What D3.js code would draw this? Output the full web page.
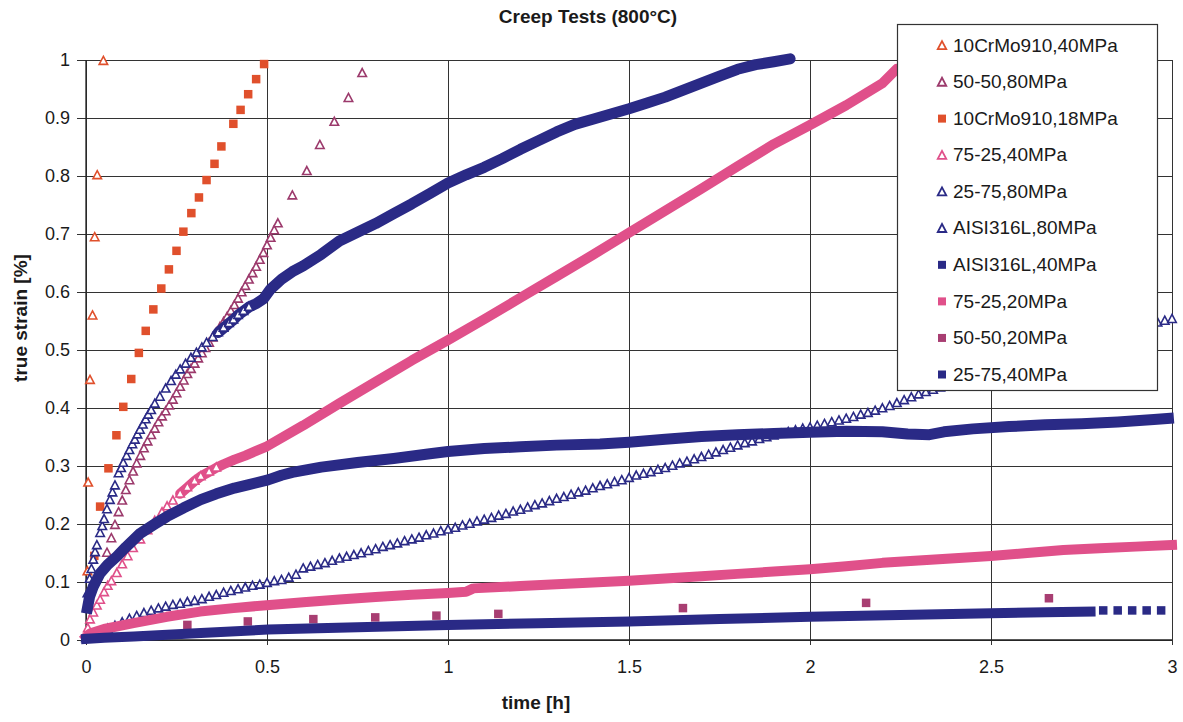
<!DOCTYPE html>
<html>
<head>
<meta charset="utf-8">
<script src="https://cdn.jsdelivr.net/npm/d3@7"></script>
<style>
  html, body { margin: 0; padding: 0; background: #fff; }
  svg { display: block; font-family: "Liberation Sans", Arial, Helvetica, sans-serif; }
</style>
</head>
<body>
<svg id="chart" width="1183" height="722"></svg>
<script>
// ---------------- data ----------------
const chartTitle = "Creep Tests (800°C)";
const xTitle = "time [h]";
const yTitle = "true strain [%]";

const xTicks = [0, 0.5, 1, 1.5, 2, 2.5, 3];
const xTickLabels = ["0", "0.5", "1", "1.5", "2", "2.5", "3"];
const yTicks = [0, 0.1, 0.2, 0.3, 0.4, 0.5, 0.6, 0.7, 0.8, 0.9, 1];
const yTickLabels = ["0", "0.1", "0.2", "0.3", "0.4", "0.5", "0.6", "0.7", "0.8", "0.9", "1"];

const seriesNames = [
  "10CrMo910,40MPa", "50-50,80MPa", "10CrMo910,18MPa", "75-25,40MPa", "25-75,80MPa",
  "AISI316L,80MPa", "AISI316L,40MPa", "75-25,20MPa", "50-50,20MPa", "25-75,40MPa"
];

// 10CrMo910, 40 MPa
const crmo40Time   = [0.004, 0.006, 0.011, 0.018, 0.024, 0.031, 0.048];
const crmo40Strain = [0.118, 0.271, 0.448, 0.559, 0.694, 0.801, 0.998];

// 50-50, 80 MPa
const ff80Time = [0.058, 0.07, 0.08, 0.09, 0.10, 0.11, 0.12, 0.13, 0.14, 0.15,
  0.16, 0.17, 0.18, 0.19, 0.20, 0.21, 0.22, 0.23, 0.24, 0.25,
  0.26, 0.27, 0.28, 0.29, 0.30, 0.31, 0.32, 0.33, 0.34, 0.35,
  0.36, 0.37, 0.38, 0.39, 0.40, 0.41, 0.42, 0.43, 0.44, 0.45,
  0.46, 0.47, 0.48, 0.49, 0.50, 0.51, 0.52, 0.53,
  0.570, 0.610, 0.646, 0.686, 0.725, 0.763];
const ff80Strain = [0.150, 0.175, 0.198, 0.220, 0.240, 0.258, 0.275, 0.290, 0.304, 0.317,
  0.330, 0.342, 0.353, 0.364, 0.375, 0.385, 0.394, 0.404, 0.414, 0.425,
  0.436, 0.447, 0.458, 0.467, 0.476, 0.485, 0.494, 0.503, 0.512, 0.521,
  0.530, 0.539, 0.548, 0.557, 0.567, 0.577, 0.588, 0.599, 0.610, 0.621,
  0.632, 0.643, 0.655, 0.667, 0.680, 0.693, 0.706, 0.718,
  0.766, 0.808, 0.853, 0.893, 0.934, 0.977];

// 10CrMo910, 18 MPa
const crmo18Time = [0.023, 0.039, 0.062, 0.084, 0.103, 0.125, 0.146, 0.165, 0.186, 0.208,
  0.229, 0.250, 0.269, 0.291, 0.312, 0.333, 0.355, 0.374, 0.407, 0.427,
  0.448, 0.470, 0.492];
const crmo18Strain = [0.145, 0.230, 0.296, 0.353, 0.402, 0.450, 0.495, 0.533, 0.570, 0.606,
  0.639, 0.671, 0.704, 0.736, 0.763, 0.793, 0.821, 0.851, 0.890, 0.914,
  0.941, 0.967, 0.993];

// 75-25, 40 MPa
const sq40Time = [0.005, 0.011, 0.020, 0.030, 0.039, 0.050, 0.060, 0.070, 0.085, 0.100,
  0.115, 0.130, 0.150, 0.170, 0.190, 0.210, 0.224, 0.240, 0.260, 0.280,
  0.300, 0.317, 0.340, 0.360, 0.380, 0.410, 0.440, 0.470, 0.500, 0.600,
  0.700, 0.800, 0.900, 1.000, 1.100, 1.200, 1.300, 1.400, 1.500, 1.600,
  1.700, 1.800, 1.900, 2.000, 2.100, 2.200, 2.240];
const sq40Strain = [0.020, 0.035, 0.047, 0.059, 0.069, 0.082, 0.093, 0.101, 0.115, 0.130,
  0.144, 0.158, 0.173, 0.189, 0.205, 0.220, 0.230, 0.240, 0.252, 0.263,
  0.274, 0.282, 0.290, 0.297, 0.303, 0.311, 0.318, 0.326, 0.334, 0.370,
  0.408, 0.445, 0.482, 0.517, 0.553, 0.590, 0.627, 0.664, 0.702, 0.740,
  0.778, 0.817, 0.855, 0.888, 0.922, 0.960, 0.985];

// 25-75, 80 MPa
const tq80Time = [0.004, 0.010, 0.015, 0.020, 0.025, 0.030, 0.039, 0.045, 0.050, 0.058,
  0.066, 0.073, 0.080, 0.090, 0.097, 0.103, 0.112, 0.120, 0.128, 0.135,
  0.142, 0.149, 0.157, 0.165, 0.172, 0.180, 0.190, 0.204, 0.220, 0.235,
  0.248, 0.260, 0.275, 0.290, 0.305, 0.320, 0.333, 0.350, 0.365, 0.380,
  0.395, 0.407, 0.420, 0.435, 0.450, 0.470, 0.490, 0.510, 0.540, 0.570,
  0.600, 0.650, 0.700, 0.750, 0.800, 0.850, 0.900, 0.950, 1.000, 1.050,
  1.100, 1.150, 1.200, 1.250, 1.300, 1.350, 1.400, 1.450, 1.500, 1.550,
  1.600, 1.650, 1.700, 1.750, 1.800, 1.850, 1.900, 1.945];
const tq80Strain = [0.080, 0.105, 0.122, 0.138, 0.151, 0.163, 0.184, 0.196, 0.208, 0.225,
  0.241, 0.254, 0.266, 0.287, 0.296, 0.305, 0.317, 0.327, 0.337, 0.345,
  0.354, 0.362, 0.371, 0.380, 0.388, 0.396, 0.407, 0.419, 0.433, 0.446,
  0.457, 0.466, 0.476, 0.486, 0.495, 0.504, 0.512, 0.522, 0.530, 0.538,
  0.546, 0.552, 0.560, 0.567, 0.574, 0.580, 0.588, 0.605, 0.622, 0.635,
  0.645, 0.665, 0.688, 0.703, 0.718, 0.735, 0.752, 0.770, 0.788, 0.802,
  0.815, 0.830, 0.846, 0.861, 0.876, 0.889, 0.898, 0.907, 0.916, 0.926,
  0.936, 0.948, 0.960, 0.972, 0.984, 0.992, 0.997, 1.002];

// AISI316L, 80 MPa
const aisi80Time = [
  0.00, 0.02, 0.04, 0.06, 0.08, 0.10, 0.12, 0.14, 0.16, 0.18,
  0.20, 0.22, 0.24, 0.26, 0.28, 0.30, 0.32, 0.34, 0.36, 0.38,
  0.40, 0.42, 0.44, 0.46, 0.48, 0.50, 0.52, 0.54, 0.56, 0.58,
  0.60, 0.62, 0.64, 0.66, 0.68, 0.70, 0.72, 0.74, 0.76, 0.78,
  0.80, 0.82, 0.84, 0.86, 0.88, 0.90, 0.92, 0.94, 0.96, 0.98,
  1.00, 1.02, 1.04, 1.06, 1.08, 1.10, 1.12, 1.14, 1.16, 1.18,
  1.20, 1.22, 1.24, 1.26, 1.28, 1.30, 1.32, 1.34, 1.36, 1.38,
  1.40, 1.42, 1.44, 1.46, 1.48, 1.50, 1.52, 1.54, 1.56, 1.58,
  1.60, 1.62, 1.64, 1.66, 1.68, 1.70, 1.72, 1.74, 1.76, 1.78,
  1.80, 1.82, 1.84, 1.86, 1.88, 1.90, 1.92, 1.94, 1.96, 1.98,
  2.00, 2.02, 2.04, 2.06, 2.08, 2.10, 2.12, 2.14, 2.16, 2.18,
  2.20, 2.22, 2.24, 2.26, 2.28, 2.30, 2.32, 2.34, 2.36, 2.38,
  2.40, 2.42, 2.44, 2.46, 2.48, 2.50, 2.52, 2.54, 2.56, 2.58,
  2.60, 2.62, 2.64, 2.66, 2.68, 2.70, 2.72, 2.74, 2.76, 2.78,
  2.80, 2.82, 2.84, 2.86, 2.88, 2.90, 2.92, 2.94, 2.96, 2.98,
  3.00];
const aisi80Strain = [
  0.003, 0.009, 0.014, 0.019, 0.024, 0.030, 0.036, 0.041, 0.046, 0.050,
  0.054, 0.057, 0.060, 0.062, 0.065, 0.067, 0.070, 0.074, 0.077, 0.081,
  0.084, 0.087, 0.090, 0.093, 0.095, 0.098, 0.101, 0.103, 0.107, 0.112,
  0.123, 0.126, 0.129, 0.132, 0.136, 0.140, 0.143, 0.146, 0.149, 0.153,
  0.156, 0.160, 0.163, 0.166, 0.170, 0.173, 0.176, 0.180, 0.183, 0.187,
  0.190, 0.193, 0.197, 0.200, 0.204, 0.207, 0.210, 0.214, 0.217, 0.221,
  0.224, 0.228, 0.232, 0.235, 0.239, 0.243, 0.246, 0.250, 0.254, 0.257,
  0.261, 0.265, 0.268, 0.272, 0.275, 0.279, 0.283, 0.286, 0.289, 0.293,
  0.296, 0.300, 0.304, 0.307, 0.311, 0.315, 0.319, 0.323, 0.327, 0.331,
  0.335, 0.339, 0.342, 0.346, 0.349, 0.352, 0.355, 0.358, 0.361, 0.364,
  0.366, 0.369, 0.372, 0.375, 0.378, 0.381, 0.384, 0.388, 0.391, 0.395,
  0.399, 0.403, 0.408, 0.413, 0.418, 0.423, 0.427, 0.431, 0.435, 0.440,
  0.444, 0.448, 0.453, 0.457, 0.461, 0.465, 0.469, 0.473, 0.477, 0.481,
  0.485, 0.489, 0.493, 0.497, 0.500, 0.504, 0.508, 0.511, 0.515, 0.518,
  0.522, 0.525, 0.528, 0.532, 0.535, 0.538, 0.541, 0.544, 0.547, 0.550,
  0.553];

// AISI316L, 40 MPa
const aisi40Time = [0.004, 0.010, 0.020, 0.039, 0.060, 0.085, 0.110, 0.150, 0.190, 0.224,
  0.270, 0.317, 0.360, 0.410, 0.450, 0.503, 0.540, 0.570, 0.650, 0.750,
  0.850, 0.950, 1.000, 1.100, 1.200, 1.300, 1.420, 1.500, 1.600, 1.700,
  1.800, 1.900, 2.000, 2.100, 2.200, 2.270, 2.330, 2.370, 2.450, 2.550,
  2.650, 2.750, 2.850, 2.950, 2.990];
const aisi40Strain = [0.055, 0.075, 0.092, 0.115, 0.130, 0.144, 0.160, 0.184, 0.200, 0.213,
  0.228, 0.242, 0.252, 0.262, 0.268, 0.276, 0.284, 0.289, 0.298, 0.306,
  0.313, 0.321, 0.325, 0.330, 0.333, 0.336, 0.338, 0.341, 0.346, 0.351,
  0.354, 0.356, 0.358, 0.360, 0.359, 0.355, 0.354, 0.359, 0.364, 0.368,
  0.371, 0.373, 0.376, 0.380, 0.382];

// 75-25, 20 MPa
const sq20Time = [0.000, 0.011, 0.050, 0.131, 0.223, 0.315, 0.407, 0.499, 0.600, 0.700,
  0.800, 0.900, 1.000, 1.050, 1.070, 1.200, 1.300, 1.400, 1.500, 1.600,
  1.700, 1.800, 1.900, 2.000, 2.100, 2.200, 2.300, 2.400, 2.500, 2.600,
  2.700, 2.800, 2.900, 3.000];
const sq20Strain = [0.005, 0.011, 0.019, 0.029, 0.040, 0.049, 0.055, 0.060, 0.065, 0.070,
  0.074, 0.078, 0.081, 0.083, 0.089, 0.093, 0.096, 0.099, 0.102, 0.106,
  0.110, 0.114, 0.118, 0.122, 0.127, 0.133, 0.137, 0.141, 0.145, 0.150,
  0.155, 0.158, 0.161, 0.164];

// 50-50, 20 MPa
const ff20Time   = [0.280, 0.447, 0.628, 0.799, 0.968, 1.139, 1.649, 2.155, 2.660];
const ff20Strain = [0.026, 0.032, 0.036, 0.039, 0.042, 0.045, 0.055, 0.064, 0.072];

// 25-75, 40 MPa
const tq40Time = [0.000, 0.050, 0.132, 0.317, 0.503, 0.750, 1.000, 1.250, 1.500, 1.750,
  2.000, 2.250, 2.500, 2.650, 2.775, 2.810, 2.850, 2.890, 2.930, 2.970];
const tq40Strain = [0.002, 0.004, 0.006, 0.012, 0.018, 0.022, 0.026, 0.029, 0.032, 0.036,
  0.040, 0.043, 0.046, 0.048, 0.049, 0.051, 0.051, 0.051, 0.051, 0.051];

// ---------------- styling ----------------
const ORANGE = "#e0502c";
const MAROON = "#9c3a6c";
const PINK = "#e0508a";
const NAVY = "#2a2a86";
const PLUM = "#a83e72";

// band = time range drawn as a dense marker trail; marks = time range where single markers are drawn
const seriesStyle = [
  { t: crmo40Time, s: crmo40Strain, shape: "tri", color: ORANGE },
  { t: ff80Time,   s: ff80Strain,   shape: "tri", color: MAROON },
  { t: crmo18Time, s: crmo18Strain, shape: "sq",  color: ORANGE },
  { t: sq40Time,   s: sq40Strain,   shape: "tri", color: PINK, band: [0.25, 9], bandWidth: 10, marks: [0, 0.36] },
  { t: tq80Time,   s: tq80Strain,   shape: "tri", color: NAVY, band: [0.36, 9], bandWidth: 11, marks: [0, 0.46] },
  { t: aisi80Time, s: aisi80Strain, shape: "tri", color: NAVY },
  { t: aisi40Time, s: aisi40Strain, shape: "sq",  color: NAVY, band: [0, 9], bandWidth: 11, marks: [9, 9] },
  { t: sq20Time,   s: sq20Strain,   shape: "sq",  color: PINK, band: [0, 9], bandWidth: 10, marks: [9, 9] },
  { t: ff20Time,   s: ff20Strain,   shape: "sq",  color: PLUM },
  { t: tq40Time,   s: tq40Strain,   shape: "sq",  color: NAVY, band: [0, 2.78], bandWidth: 10, marks: [2.79, 9] }
];

// ---------------- layout ----------------
const svg = d3.select("#chart");
const plot = { left: 86, right: 1172, top: 60, bottom: 640 };

const x = d3.scaleLinear().domain([0, 3]).range([plot.left, plot.right]);
const y = d3.scaleLinear().domain([0, 1]).range([plot.bottom, plot.top]);

const GRID = "#333";

// horizontal gridlines with outside ticks (left)
const yAxis = d3.axisLeft(y)
  .tickValues(yTicks)
  .tickFormat((d, i) => yTickLabels[i])
  .tickSize(plot.right - plot.left + 9)
  .tickPadding(8);
const gy = svg.append("g")
  .attr("transform", `translate(${plot.right},0)`)
  .call(yAxis);
gy.select(".domain").remove();
gy.selectAll(".tick line").attr("stroke", GRID).attr("stroke-width", 1);
gy.selectAll(".tick text")
  .attr("fill", "#1a1a1a")
  .style("font-size", "18px")
  .attr("x", plot.left - plot.right - 16);

// vertical gridlines with outside ticks (bottom)
const xAxis = d3.axisBottom(x)
  .tickValues(xTicks)
  .tickFormat((d, i) => xTickLabels[i])
  .tickSize(plot.bottom - plot.top + 5)
  .tickPadding(15);
const gx = svg.append("g")
  .attr("transform", `translate(0,${plot.top})`)
  .call(xAxis);
gx.select(".domain").remove();
gx.selectAll(".tick line").attr("stroke", GRID).attr("stroke-width", 1);
gx.selectAll(".tick text")
  .attr("fill", "#1a1a1a")
  .style("font-size", "18px");

// axis lines
svg.append("line")
  .attr("x1", plot.left).attr("x2", plot.left)
  .attr("y1", plot.top).attr("y2", plot.bottom)
  .attr("stroke", "#222").attr("stroke-width", 1.3);
svg.append("line")
  .attr("x1", plot.left).attr("x2", plot.right)
  .attr("y1", plot.bottom).attr("y2", plot.bottom)
  .attr("stroke", "#222").attr("stroke-width", 1.3);

// ---------------- marks ----------------
const triPath = (w, h) => `M0,${-h * 0.6}L${w / 2},${h * 0.4}L${-w / 2},${h * 0.4}Z`;

const line = d3.line().x(d => x(d.t)).y(d => y(d.s));
const marksLayer = svg.append("g");

seriesStyle.forEach((st) => {
  const n = Math.min(st.t.length, st.s.length);
  const pts = d3.range(n).map(i => ({ t: st.t[i], s: st.s[i] }));
  const g = marksLayer.append("g");

  if (st.band) {
    const bandPts = pts.filter(p => p.t >= st.band[0] && p.t <= st.band[1]);
    g.append("path")
      .datum(bandPts)
      .attr("d", line)
      .attr("fill", "none")
      .attr("stroke", st.color)
      .attr("stroke-width", st.bandWidth)
      .attr("stroke-linejoin", "round")
      .attr("stroke-linecap", st.shape === "sq" ? "square" : "round");
  }

  const markPts = st.marks ? pts.filter(p => p.t >= st.marks[0] && p.t <= st.marks[1]) : pts;
  if (st.shape === "tri") {
    g.selectAll("path.m")
      .data(markPts)
      .join("path")
      .attr("class", "m")
      .attr("d", triPath(8.5, 8))
      .attr("transform", d => `translate(${x(d.t)},${y(d.s)})`)
      .attr("fill", "#fff")
      .attr("stroke", st.color)
      .attr("stroke-width", 1.6)
      .attr("stroke-linejoin", "miter");
  } else {
    const sz = 8.5;
    g.selectAll("rect.m")
      .data(markPts)
      .join("rect")
      .attr("class", "m")
      .attr("x", d => x(d.t) - sz / 2)
      .attr("y", d => y(d.s) - sz / 2)
      .attr("width", sz)
      .attr("height", sz)
      .attr("fill", st.color);
  }
});

// ---------------- titles ----------------
svg.append("text")
  .attr("x", 588).attr("y", 23)
  .attr("text-anchor", "middle")
  .style("font-size", "19px").style("font-weight", "bold")
  .attr("fill", "#1a1a1a")
  .text(chartTitle);

svg.append("text")
  .attr("x", 536).attr("y", 709)
  .attr("text-anchor", "middle")
  .style("font-size", "19px").style("font-weight", "bold")
  .attr("fill", "#1a1a1a")
  .text(xTitle);

svg.append("text")
  .attr("transform", "translate(27,318) rotate(-90)")
  .attr("text-anchor", "middle")
  .style("font-size", "19px").style("font-weight", "bold")
  .attr("fill", "#1a1a1a")
  .text(yTitle);

// ---------------- legend ----------------
const legend = svg.append("g");
legend.append("rect")
  .attr("x", 897.5).attr("y", 24.5)
  .attr("width", 260).attr("height", 366)
  .attr("fill", "#fff")
  .attr("stroke", "#333").attr("stroke-width", 1.2);

const legendRow = d3.scaleLinear().domain([0, 9]).range([45, 374]);
seriesNames.forEach((name, i) => {
  const st = seriesStyle[i];
  const cy = legendRow(i);
  if (st.shape === "tri") {
    legend.append("path")
      .attr("d", triPath(8.5, 8))
      .attr("transform", `translate(942,${cy + 1})`)
      .attr("fill", "#fff")
      .attr("stroke", st.color)
      .attr("stroke-width", 1.8);
  } else {
    legend.append("rect")
      .attr("x", 938).attr("y", cy - 3.5)
      .attr("width", 8).attr("height", 8)
      .attr("fill", st.color);
  }
  legend.append("text")
    .attr("x", 953).attr("y", cy)
    .attr("dy", "0.35em")
    .style("font-size", "19px")
    .attr("fill", "#1a1a1a")
    .text(name);
});
</script>
</body>
</html>
